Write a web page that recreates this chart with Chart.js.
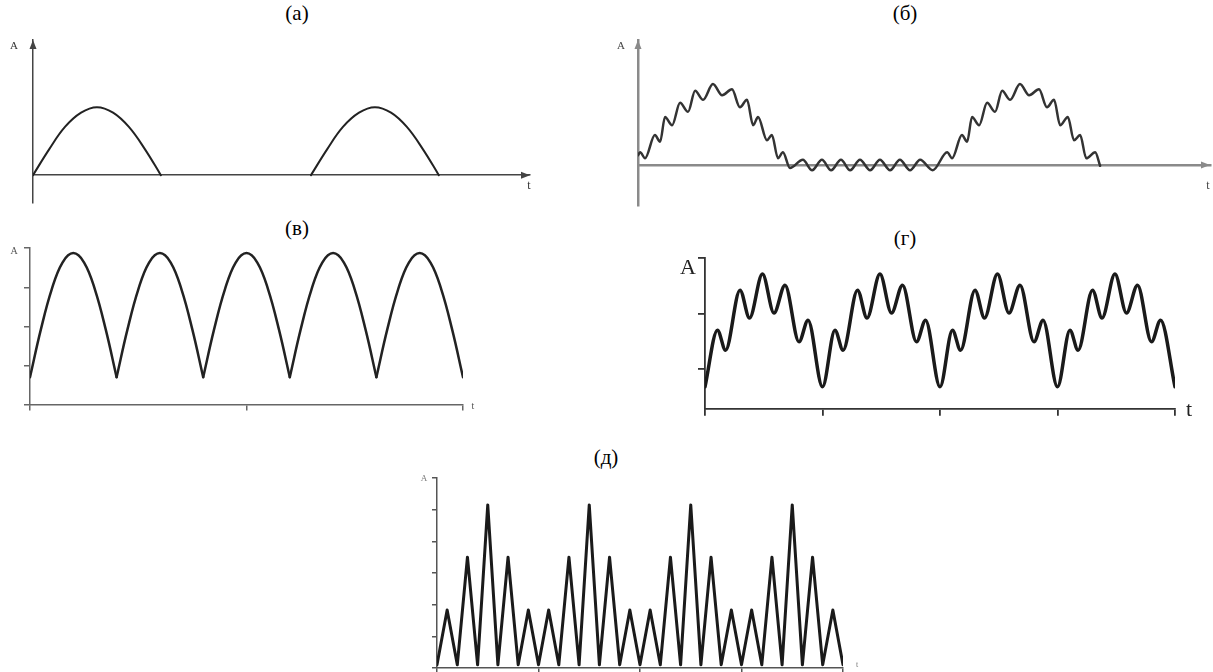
<!DOCTYPE html>
<html>
<head>
<meta charset="utf-8">
<script src="https://cdn.jsdelivr.net/npm/chart.js@4.4.1/dist/chart.umd.min.js"></script>
<style>
	html, body { margin: 0; padding: 0; background: #fff; }
	#page { position: relative; width: 1213px; height: 672px; overflow: hidden; background: #fff; }
	#page canvas { position: absolute; left: 0; top: 0; }
	.caption {
		position: absolute;
		font-family: 'Liberation Serif', 'Times New Roman', serif;
		font-size: 21px;
		line-height: 1;
		color: #000;
		transform: translateX(-50%);
		white-space: nowrap;
	}
</style>
</head>
<body>
<div id="page">
	<div class="caption" style="left:297px;top:3px">(а)</div>
	<div class="caption" style="left:905px;top:3px">(б)</div>
	<div class="caption" style="left:297px;top:218px">(в)</div>
	<div class="caption" style="left:905px;top:228px">(г)</div>
	<div class="caption" style="left:606px;top:447px">(д)</div>
	<canvas id="chartA" width="1213" height="672"></canvas>
	<canvas id="chartB" width="1213" height="672"></canvas>
	<canvas id="chartV" width="1213" height="672"></canvas>
	<canvas id="chartG" width="1213" height="672"></canvas>
	<canvas id="chartD" width="1213" height="672"></canvas>
</div>
<script>
// (а) half-wave: two arches, nothing in between
var tA1 = [0, 0.58, 1.15, 1.73, 2.3, 2.88, 3.45, 4.03, 4.6];
var archA1 = [0, 0.38, 0.71, 0.92, 1, 0.92, 0.71, 0.38, 0];
var tA2 = [10, 10.58, 11.15, 11.73, 12.3, 12.88, 13.45, 14.03, 14.6];
var archA2 = [0, 0.38, 0.71, 0.92, 1, 0.92, 0.71, 0.38, 0];

// (б) half-wave with ripple
var tB = [
	0, 0.07, 0.23, 0.55, 0.72, 0.88, 1.11, 1.37, 1.63, 1.86, 2.12, 2.44,
	2.74, 3.06, 3.32, 3.55, 3.75, 3.91, 4.2, 4.36, 4.56, 4.72, 4.95,
	5.37, 5.67, 5.99, 6.29, 6.61, 6.91, 7.23, 7.56, 7.88, 8.21, 8.53, 8.86, 9.19, 9.6,
	10.07, 10.23, 10.55, 10.72, 10.88, 11.11, 11.37, 11.63, 11.86, 12.12, 12.44,
	12.74, 13.06, 13.32, 13.55, 13.75, 14.0, 14.2, 14.4, 14.6, 14.89, 15.05
];
var aB = [
	0.13, 0.17, 0.09, 0.4, 0.31, 0.64, 0.53, 0.83, 0.71, 0.99, 0.87, 1.08,
	0.93, 1.01, 0.77, 0.87, 0.53, 0.64, 0.33, 0.4, 0.09, 0.17, -0.04,
	0.07, -0.07, 0.07, -0.07, 0.07, -0.07, 0.07, -0.07, 0.07, -0.07, 0.07, -0.07, 0.07, -0.07,
	0.17, 0.09, 0.4, 0.31, 0.64, 0.53, 0.83, 0.71, 0.99, 0.87, 1.08,
	0.93, 1.01, 0.77, 0.87, 0.53, 0.64, 0.33, 0.4, 0.09, 0.17, -0.01
];

// (в) full-wave, five arches sharing the cusps
var tV = [
	0, 0.05, 0.1, 0.15, 0.2, 0.25, 0.3, 0.35, 0.4, 0.45, 0.5, 0.55, 0.6, 0.65,
	0.7, 0.75, 0.8, 0.85, 0.9, 0.95, 1, 1.05, 1.1, 1.15, 1.2, 1.25, 1.3, 1.35,
	1.4, 1.45, 1.5, 1.55, 1.6, 1.65, 1.7, 1.75, 1.8, 1.85, 1.9, 1.95, 2
];
var archV1 = [0.71, 1.92, 2.94, 3.63, 3.87, 3.63, 2.94, 1.92, 0.71];
var archV2 = [0.71, 1.92, 2.94, 3.63, 3.87, 3.63, 2.94, 1.92, 0.71];
var archV3 = [0.71, 1.92, 2.94, 3.63, 3.87, 3.63, 2.94, 1.92, 0.71];
var archV4 = [0.71, 1.92, 2.94, 3.63, 3.87, 3.63, 2.94, 1.92, 0.71];
var archV5 = [0.71, 1.92, 2.94, 3.63, 3.87, 3.63, 2.94, 1.92, 0.71];

// (г) rippled full-wave
var tG = [
	0, 0.106, 0.175, 0.298, 0.379, 0.489, 0.587, 0.681, 0.8, 0.877,
	1, 1.106, 1.175, 1.298, 1.379, 1.489, 1.587, 1.681, 1.8, 1.877,
	2, 2.106, 2.175, 2.298, 2.379, 2.489, 2.587, 2.681, 2.8, 2.877,
	3, 3.106, 3.175, 3.298, 3.379, 3.489, 3.587, 3.681, 3.8, 3.877,
	4
];
var aG = [
	-0.32, 0.7, 0.34, 1.42, 0.92, 1.71, 1.01, 1.51, 0.49, 0.88,
	-0.32, 0.7, 0.34, 1.42, 0.92, 1.71, 1.01, 1.51, 0.49, 0.88,
	-0.32, 0.7, 0.34, 1.42, 0.92, 1.71, 1.01, 1.51, 0.49, 0.88,
	-0.32, 0.7, 0.34, 1.42, 0.92, 1.71, 1.01, 1.51, 0.49, 0.88,
	-0.32
];

// (д) triangular pulses
var tD = [
	0, 1, 2, 3, 4, 5, 6, 7, 8, 9, 10, 11, 12, 13, 14, 15, 16, 17, 18, 19, 20,
	21, 22, 23, 24, 25, 26, 27, 28, 29, 30, 31, 32, 33, 34, 35, 36, 37, 38, 39, 40
];
var aD = [
	0.1, 1.83, 0.1, 3.5, 0.1, 5.15, 0.1, 3.5, 0.1, 1.83,
	0.1, 1.83, 0.1, 3.5, 0.1, 5.15, 0.1, 3.5, 0.1, 1.83,
	0.1, 1.83, 0.1, 3.5, 0.1, 5.15, 0.1, 3.5, 0.1, 1.83,
	0.1, 1.83, 0.1, 3.5, 0.1, 5.15, 0.1, 3.5, 0.1, 1.83,
	0.1
];

function points(t, a, from) {
	from = from || 0;
	return a.map(function (v, i) {
		return { x: t[from + i], y: v };
	});
}

// arrowheads and the A / t letters next to the axes
var axisDecor = {
	id: 'axisDecor',
	afterDraw: function (chart, args, opts) {
		var ctx = chart.ctx;
		var area = chart.chartArea;
		var axisY = chart.scales.y.getPixelForValue(opts.origin);

		ctx.save();
		ctx.fillStyle = opts.color;
		if (opts.arrows) {
			ctx.beginPath();
			ctx.moveTo(area.left, area.top);
			ctx.lineTo(area.left - 3.5, area.top + 9);
			ctx.lineTo(area.left + 3.5, area.top + 9);
			ctx.closePath();
			ctx.fill();

			ctx.beginPath();
			ctx.moveTo(area.right, axisY);
			ctx.lineTo(area.right - 9, axisY - 3.5);
			ctx.lineTo(area.right - 9, axisY + 3.5);
			ctx.closePath();
			ctx.fill();
		}

		ctx.fillStyle = opts.textColor;
		ctx.textAlign = 'center';
		ctx.textBaseline = 'middle';
		ctx.font = opts.aSize + 'px "Liberation Serif", "Times New Roman", serif';
		ctx.fillText('A', area.left + opts.aPos[0], area.top + opts.aPos[1]);
		ctx.font = opts.tSize + 'px "Liberation Serif", "Times New Roman", serif';
		ctx.fillText('t', area.right + opts.tPos[0], axisY + opts.tPos[1]);
		ctx.restore();
	}
};

function makeChart(id, cfg) {
	var tickMarks = {
		display: cfg.tickLength > 0,
		drawOnChartArea: false,
		drawTicks: true,
		tickLength: cfg.tickLength,
		color: cfg.axisColor,
		tickColor: cfg.axisColor,
		lineWidth: cfg.axisWidth,
	};

	return new Chart(document.getElementById(id), {
		type: 'line',
		data: {
			datasets: cfg.series.map(function (s) {
				return {
					data: s,
					borderColor: cfg.lineColor,
					borderWidth: cfg.lineWidth,
					pointRadius: 0,
					tension: cfg.tension,
					cubicInterpolationMode: cfg.mode || 'default',
					fill: false,
					borderCapStyle: 'round',
					borderJoinStyle: 'round',
				};
			})
		},
		options: {
			responsive: false,
			animation: false,
			devicePixelRatio: 1,
			events: [],
			layout: {
				padding: cfg.padding
			},
			plugins: {
				legend: { display: false },
				tooltip: { enabled: false },
				axisDecor: {
					origin: cfg.origin,
					arrows: cfg.arrows,
					color: cfg.axisColor,
					textColor: cfg.textColor,
					aPos: cfg.aPos,
					aSize: cfg.aSize,
					tPos: cfg.tPos,
					tSize: cfg.tSize,
				}
			},
			scales: {
				x: {
					type: 'linear',
					min: cfg.x[0],
					max: cfg.x[1],
					position: { y: cfg.origin },
					ticks: { display: false, stepSize: cfg.x[2], includeBounds: false },
					grid: tickMarks,
					border: { display: true, color: cfg.axisColor, width: cfg.axisWidth },
				},
				y: {
					type: 'linear',
					min: cfg.y[0],
					max: cfg.y[1],
					position: { x: cfg.x[0] },
					ticks: { display: false, stepSize: cfg.y[2], includeBounds: false },
					grid: tickMarks,
					border: { display: true, color: cfg.axisColor, width: cfg.axisWidth },
				}
			}
		},
		plugins: [axisDecor]
	});
}

makeChart('chartA', {
	series: [points(tA1, archA1), points(tA2, archA2)],
	padding: { left: 33, top: 40, right: 683, bottom: 469 },
	x: [0, 17.88, 1], y: [-0.41, 1.99, 1], origin: 0,
	tension: 0.4, lineColor: '#222', lineWidth: 2,
	axisColor: '#444', axisWidth: 1.5, tickLength: 0, arrows: true,
	textColor: '#333', aPos: [-19, 6], aSize: 11, tPos: [-1, 11], tSize: 12,
});

makeChart('chartB', {
	series: [points(tB, aB)],
	padding: { left: 638, top: 40, right: 3, bottom: 467 },
	x: [0, 18.63, 1], y: [-0.533, 1.667, 1], origin: 0,
	tension: 0.4, mode: 'monotone', lineColor: '#333', lineWidth: 2.5,
	axisColor: '#8a8a8a', axisWidth: 2.5, tickLength: 0, arrows: true,
	textColor: '#444', aPos: [-17, 6], aSize: 11, tPos: [-2, 21], tSize: 12,
});

makeChart('chartV', {
	series: [
		points(tV, archV1, 0),
		points(tV, archV2, 8),
		points(tV, archV3, 16),
		points(tV, archV4, 24),
		points(tV, archV5, 32)
	],
	padding: { left: 30, top: 248, right: 750, bottom: 267 },
	x: [0, 2, 1], y: [0, 4, 1], origin: 0,
	tension: 0.4, lineColor: '#222', lineWidth: 2.5,
	axisColor: '#666', axisWidth: 1.5, tickLength: 5, arrows: false,
	textColor: '#555', aPos: [-16, 3], aSize: 10, tPos: [10, 1], tSize: 10,
});

makeChart('chartG', {
	series: [points(tG, aG)],
	padding: { left: 705, top: 258, right: 38, bottom: 263 },
	x: [0, 4, 1], y: [-0.72, 2, 1], origin: -0.72,
	tension: 0.4, mode: 'monotone', lineColor: '#1a1a1a', lineWidth: 3.5,
	axisColor: '#333', axisWidth: 1.8, tickLength: 6, arrows: false,
	textColor: '#222', aPos: [-17, 10], aSize: 22, tPos: [14, 1], tSize: 22,
});

makeChart('chartD', {
	series: [points(tD, aD)],
	padding: { left: 437, top: 478, right: 370, bottom: 4 },
	x: [0, 40, 10], y: [0, 6, 1], origin: 0,
	tension: 0, lineColor: '#1a1a1a', lineWidth: 3,
	axisColor: '#555', axisWidth: 1.5, tickLength: 4, arrows: false,
	textColor: '#777', aPos: [-13, 1], aSize: 9, tPos: [14, -3], tSize: 8,
});
</script>
</body>
</html>
